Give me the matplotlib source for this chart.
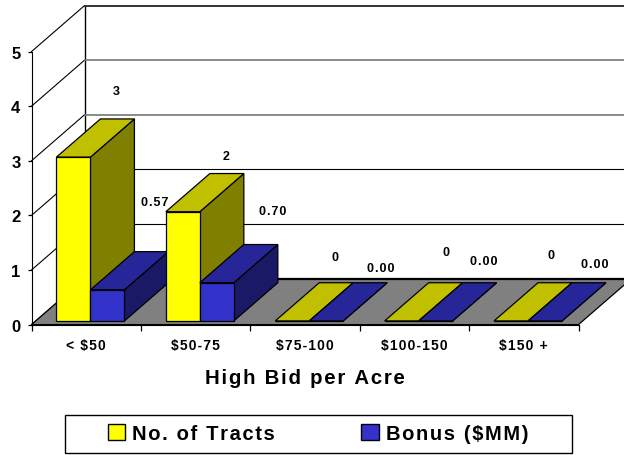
import matplotlib
matplotlib.use("Agg")
import matplotlib.pyplot as plt
from matplotlib.patches import Patch, Polygon, Rectangle

categories = ["< $50", "$50-75", "$75-100", "$100-150", "$150 +"]
tracts = [3, 2, 0, 0, 0]
bonus = [0.57, 0.70, 0.00, 0.00, 0.00]
y_ticks = [0, 1, 2, 3, 4, 5]

# label offsets from the front top centre of each bar, in pixels
tract_nudge = [(43, 66), (43.5, 56), (43, 64), (44, 69), (39.5, 66)]
bonus_nudge = [(47.7, 88), (56, 71.5), (54.6, 53), (48.2, 60), (49.4, 57)]

plt.rcParams["font.family"] = ["Liberation Sans", "DejaVu Sans"]
plt.rcParams["font.weight"] = "bold"


def wide(s):
    # the original has letter spaced text
    return "\u200a".join(s)


W, H = 624, 456
fig = plt.figure(figsize=(W / 100, H / 100), dpi=100)
ax = fig.add_axes([31.5 / W, (H - 325.6) / H, 547 / W, 273 / H])
ax.set_xlim(0, 5)
ax.set_ylim(0, 5)
ax.patch.set_visible(False)

# oblique projection used for the fake 3d look
DX = 53 / 109.4
DY = 46 / 54.6
D0, D1 = 0.08, 0.91


def proj(x, y, d):
    return (x + d * DX, y + d * DY)


def poly(points, color, z, edge="black", lw=0.9):
    ax.add_patch(Polygon([proj(*p) for p in points], closed=True, facecolor=color,
                         edgecolor=edge, linewidth=lw, zorder=z, clip_on=False,
                         joinstyle="miter"))


def box(x0, x1, h, colors, z):
    front, top, side = colors
    poly([(x1, 0, D0), (x1, 0, D1), (x1, h, D1), (x1, h, D0)], side, z)
    poly([(x0, h, D0), (x1, h, D0), (x1, h, D1), (x0, h, D1)], top, z)
    poly([(x0, 0, D0), (x1, 0, D0), (x1, h, D0), (x0, h, D0)], front, z)


# walls and floor
grid_colors = ["black", "black", "black", "#777777", "#777777", "#333333"]
grid_widths = [0.8, 0.8, 0.8, 1.2, 1.2, 1.4]
for v in y_ticks:
    a = proj(0, v, 0)
    b = proj(0, v, 1)
    c = proj(5, v, 1)
    ax.plot([a[0], b[0]], [a[1], b[1]], color="black", lw=0.8, zorder=1, clip_on=False)
    ax.plot([b[0], c[0]], [b[1], c[1]], color=grid_colors[v], lw=grid_widths[v], zorder=1.1, clip_on=False)
a = proj(0, 0, 1)
b = proj(0, 5, 1)
ax.plot([a[0], b[0]], [a[1], b[1]], color="black", lw=1, zorder=1, clip_on=False)
poly([(0, 0, 0), (5, 0, 0), (5, 0, 1), (0, 0, 1)], "#808080", 1.5)
a = proj(0, 0, 1)
b = proj(5, 0, 1)
ax.plot([a[0], b[0]], [a[1], b[1]], color="black", lw=1.6, zorder=1.6, clip_on=False)

# bars
yellow = ("#FFFF00", "#C0C000", "#808000")
blue = ("#3333CC", "#262699", "#191966")
bw = 34 / 109.4
gap = (1 - 2 * bw) / 2
z = 2
for i in range(len(categories)):
    box(i + gap, i + gap + bw, tracts[i], yellow, z)
    box(i + gap + bw, i + gap + 2 * bw, bonus[i], blue, z + 0.1)
    ax.annotate(wide(str(tracts[i])), (i + gap + bw / 2 + D0 * DX, tracts[i] + D0 * DY), xytext=tract_nudge[i],
                textcoords="offset pixels", ha="center", va="center", fontsize=9, zorder=10,
                annotation_clip=False)
    ax.annotate(wide("%.2f" % bonus[i]), (i + gap + 1.5 * bw + D0 * DX, bonus[i] + D0 * DY), xytext=bonus_nudge[i],
                textcoords="offset pixels", ha="center", va="center", fontsize=9, zorder=10,
                annotation_clip=False)
    z += 1

# axes
ax.spines["top"].set_visible(False)
ax.spines["right"].set_visible(False)
ax.set_yticks(y_ticks)
ax.tick_params(axis="y", labelsize=12, length=3, width=0.9, pad=5)
for lab in ax.get_yticklabels():
    lab.set_verticalalignment("center_baseline")
ax.set_xticks(range(6))
ax.set_xticklabels([])
ax.set_xticks([i + 0.5 for i in range(5)], [wide(c) for c in categories], minor=True)
ax.tick_params(axis="x", which="major", length=4, width=0.9)
ax.tick_params(axis="x", which="minor", length=0, labelsize=10, pad=9.5)
ax.set_xlabel(wide("High Bid per Acre"), fontsize=14.7, fontweight="bold", labelpad=12)

handles = [Patch(facecolor=yellow[0], edgecolor="black", label=wide("No. of Tracts")),
           Patch(facecolor=blue[0], edgecolor="black", label=wide("Bonus ($MM)"))]
leg = fig.legend(handles=handles, ncols=2, loc="center", bbox_to_anchor=(318 / W, (H - 434.5) / H),
                 frameon=False, fontsize=14.5,
                 handlelength=0.88, handleheight=0.85, handletextpad=0.33, columnspacing=4.3,
                 borderpad=0, borderaxespad=0)
fig.add_artist(Rectangle((64.5 / W, (H - 453.5) / H), 507 / W, 38 / H, transform=fig.transFigure,
                         facecolor="none", edgecolor="black", linewidth=1))

fig.savefig("out.png", dpi=100)
